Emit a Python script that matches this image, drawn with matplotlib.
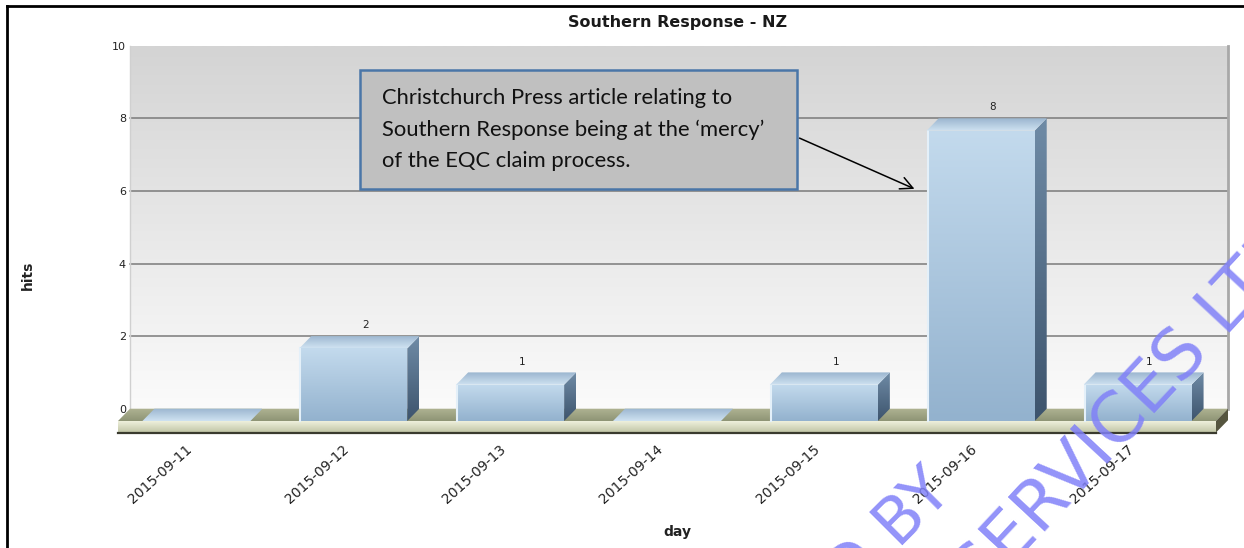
import numpy as np
import matplotlib
matplotlib.use('Agg')
import matplotlib.pyplot as plt
import matplotlib.transforms as mtransforms
from matplotlib.patches import Polygon, Rectangle, FancyArrowPatch
from matplotlib.colors import LinearSegmentedColormap
from matplotlib.lines import Line2D

# data
days = ['2015-09-11', '2015-09-12', '2015-09-13', '2015-09-14',
        '2015-09-15', '2015-09-16', '2015-09-17']
hits = [0, 2, 1, 0, 1, 8, 1]
y_ticks = [0, 2, 4, 6, 8, 10]

title = 'Southern Response - NZ'
note_lines = ['Christchurch Press article relating to',
              'Southern Response being at the \u2018mercy\u2019',
              'of the EQC claim process.']

W, H = 1244, 548
fig = plt.figure(figsize=(W / 100, H / 100), dpi=100)
fig.patch.set_facecolor('white')


def px(x, y):
    # pixel position (from top-left) -> figure fraction
    return x / W, 1 - y / H


# back wall spans x 130..1228 px, y 0 -> 408.7 px, 10 -> 45.7 px
ppx = 1098 / 7.0      # pixels per category
ppy = 36.3            # pixels per hit
dx = 12 / ppx         # depth offset of the 3D bars
dy = 12.3 / ppy
bw = 108 / ppx
slab = 11.5 / ppy

xl, xr = -0.5 - dx - 0.03, 6.5 + 0.03
yb, yt = -0.75, 10.05
left_px = 130 + (xl + 0.5) * ppx
bot_px = 408.7 - yb * ppy
ax_w = (xr - xl) * ppx
ax_h = (yt - yb) * ppy
ax = fig.add_axes([left_px / W, (H - bot_px) / H, ax_w / W, ax_h / H])
ax.set_xlim(xl, xr)
ax.set_ylim(yb, yt)
ax.patch.set_visible(False)
for s in ax.spines.values():
    s.set_visible(False)


def ax_frac(x, y):
    return (x - left_px) / ax_w, (bot_px - y) / ax_h


def grad_poly(verts, c_top, c_bot, z):
    poly = Polygon(verts, closed=True, facecolor='none', edgecolor='none',
                   transform=ax.transData)
    ax.add_patch(poly)
    xs = [v[0] for v in verts]
    ys = [v[1] for v in verts]
    cmap = LinearSegmentedColormap.from_list('g', [c_bot, c_top])
    g = np.linspace(0, 1, 128).reshape(-1, 1)
    im = ax.imshow(g, extent=[min(xs), max(xs), min(ys), max(ys)],
                   origin='lower', cmap=cmap, aspect='auto', zorder=z,
                   interpolation='bilinear')
    im.set_clip_path(poly)
    return poly


# wall
grad_poly([(-0.5, 0), (6.5, 0), (6.5, 10), (-0.5, 10)], '#d4d4d4', '#fbfbfb', 0)
for t in y_ticks[1:-1]:
    ax.add_line(Line2D([-0.5, 6.5], [t, t], color='#7a7a7a', lw=1.1, zorder=1))
ax.add_line(Line2D([6.5, 6.5], [0, 10], color='#a8a8a8', lw=2, zorder=1))
ax.add_line(Line2D([-0.5, -0.5], [0, 10], color='#d0d0d0', lw=1, zorder=1))

# floor
grad_poly([(-0.5 - dx, -dy), (6.5 - dx, -dy), (6.5, 0), (-0.5, 0)],
          '#b0b493', '#8e9475', 2)
grad_poly([(-0.5 - dx, -dy - slab), (6.5 - dx, -dy - slab), (6.5 - dx, -dy), (-0.5 - dx, -dy)],
          '#eef0dc', '#bfc3a3', 2.5)
ax.add_patch(Polygon([(6.5 - dx, -dy - slab), (6.5 - dx, -dy), (6.5, 0), (6.5, -slab)],
                     closed=True, facecolor='#55553f', edgecolor='none', zorder=2.6))
ax.add_line(Line2D([-0.5 - dx, 6.5 - dx], [-dy - slab, -dy - slab], color='#3a3a2e',
                   lw=1.6, zorder=2.7))

# bars
x = np.arange(len(days))
bars = ax.bar(x - dx, hits, width=bw, bottom=-dy, color='none', edgecolor='none', zorder=3)
for i, (rect, v) in enumerate(zip(bars, hits)):
    x0 = rect.get_x()
    x1 = x0 + rect.get_width()
    top = rect.get_y() + rect.get_height()
    z = 3 + 0.01 * i
    if v > 0:
        grad_poly([(x0, -dy), (x1, -dy), (x1, top), (x0, top)], '#c3daed', '#93b2ce', z + 0.1)
        ax.add_line(Line2D([x0 + 0.006, x0 + 0.006], [-dy, top], color='#e4f0f9',
                           lw=1.5, zorder=z + 0.2))
        grad_poly([(x1, -dy), (x1, top), (x1 + dx, top + dy), (x1 + dx, 0)],
                  '#6f8ba6', '#3d546d', z + 0.1)
    grad_poly([(x0, top), (x1, top), (x1 + dx, top + dy), (x0 + dx, top + dy)],
              '#9ab5cf', '#cfe2f1', z + 0.3)
    if v > 0:
        ax.text(x[i], v + 0.3, str(v), ha='center', va='center',
                fontsize=7.5, color='#222222', zorder=6)

# axes text
ax.set_yticks(y_ticks)
ax.set_yticklabels([str(t) for t in y_ticks], fontsize=8, color='#222222')
ax.tick_params(axis='y', length=0, pad=(left_px - 126) * 0.72)
ax.set_xticks(x - dx)
ax.set_xticklabels(days, rotation=42, ha='right', va='center',
                   rotation_mode='anchor', fontsize=10, color='#222222')
ax.tick_params(axis='x', length=0, pad=8)
shift = mtransforms.ScaledTranslation(-6 / 100, 0, fig.dpi_scale_trans)
for lbl in ax.get_xticklabels():
    lbl.set_transform(lbl.get_transform() + shift)
ax.set_xlabel('day', fontsize=10, fontweight='bold', color='#222222')
ax.xaxis.set_label_coords(*ax_frac(677, 525))
ax.set_ylabel('hits', fontsize=10, fontweight='bold', color='#222222')
ax.yaxis.set_label_coords(*ax_frac(35, 275))

fig.text(*px(678, 23), title, ha='center', va='center', fontsize=11.5,
         fontweight='bold', color='#1a1a1a')

# callout box and arrow
bx0, by0 = px(360, 189)
bx1, by1 = px(797, 70)
fig.patches.append(Rectangle((bx0, by0), bx1 - bx0, by1 - by0, transform=fig.transFigure,
                             facecolor='#c0c0c0', edgecolor='#4a76a8', lw=1.8, zorder=8))
for i, line in enumerate(note_lines):
    fig.text(*px(382, 104.3 + 31.5 * i), line, ha='left', va='baseline',
             fontsize=15.8, family='Lato', color='#111111', zorder=9)
fig.patches.append(FancyArrowPatch(px(797, 137), px(917, 190), transform=fig.transFigure,
                                   arrowstyle='->', mutation_scale=22, lw=1.1,
                                   color='black', zorder=9))

# border
fig.add_artist(Line2D([7 / W, 1], [1 - 6 / H, 1 - 6 / H], transform=fig.transFigure,
                      color='black', lw=2))
fig.add_artist(Line2D([7 / W, 7 / W], [0, 1 - 6 / H], transform=fig.transFigure,
                      color='black', lw=2))

# watermark
fig.text(*px(821, 627), 'ED BY', rotation=45, rotation_mode='anchor', ha='left',
         va='baseline', fontsize=46, color='#8080f8', alpha=0.85, zorder=10)
fig.text(*px(980, 600), 'SERVICES LTD', rotation=47, rotation_mode='anchor', ha='left',
         va='baseline', fontsize=50, color='#8080f8', alpha=0.85, zorder=10)

fig.savefig('out.png', dpi=100)
